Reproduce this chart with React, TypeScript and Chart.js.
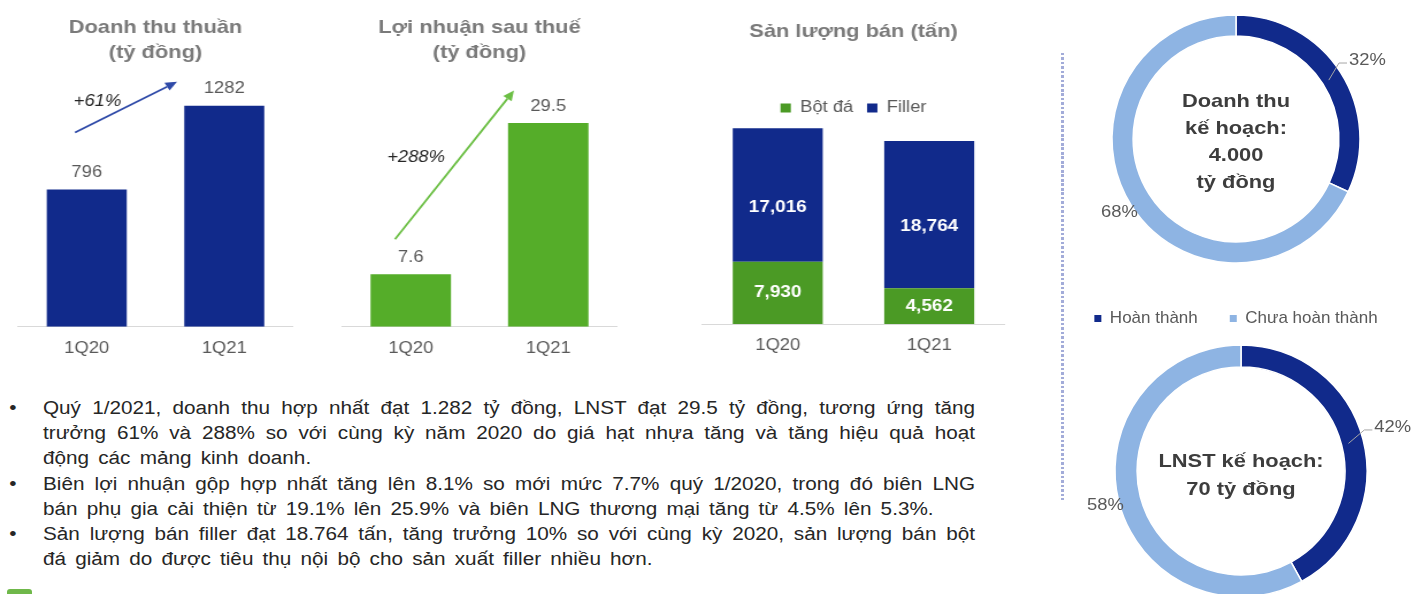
import React, { useEffect, useRef } from 'react';
import { Chart, registerables } from 'chart.js';

Chart.register(...registerables);

const FONT = '"Liberation Sans", Arial, Helvetica, sans-serif';
const STRETCH = 1.15;

// ---------- data ----------
const quarters = ['1Q20', '1Q21'];
const revenue = [796, 1282];
const profit = [7.6, 29.5];
const salesSeries = ['Bột đá', 'Filler'];
const stoneSales = [7930, 4562];
const fillerSales = [17016, 18764];
const revenueTitle = ['Doanh thu thuần', '(tỷ đồng)'];
const profitTitle = ['Lợi nhuận sau thuế', '(tỷ đồng)'];
const salesTitle = ['Sản lượng bán (tấn)'];
const revenueGrowth = '+61%';
const profitGrowth = '+288%';
const planLabels = ['Hoàn thành', 'Chưa hoàn thành'];
const revenuePlan = [32, 68];
const profitPlan = [42, 58];
const revenuePlanText = ['Doanh thu', 'kế hoạch:', '4.000', 'tỷ đồng'];
const profitPlanText = ['LNST kế hoạch:', '70 tỷ đồng'];
const bullet1 = [
  'Quý 1/2021, doanh thu hợp nhất đạt 1.282 tỷ đồng, LNST đạt 29.5 tỷ đồng, tương ứng tăng',
  'trưởng 61% và 288% so với cùng kỳ năm 2020 do giá hạt nhựa tăng và tăng hiệu quả hoạt',
  'động các mảng kinh doanh.',
];
const bullet2 = [
  'Biên lợi nhuận gộp hợp nhất tăng lên 8.1% so mới mức 7.7% quý 1/2020, trong đó biên LNG',
  'bán phụ gia cải thiện từ 19.1% lên 25.9% và biên LNG thương mại tăng từ 4.5% lên 5.3%.',
];
const bullet3 = [
  'Sản lượng bán filler đạt 18.764 tấn, tăng trưởng 10% so với cùng kỳ 2020, sản lượng bán bột',
  'đá giảm do được tiêu thụ nội bộ cho sản xuất filler nhiều hơn.',
];

// ---------- colours ----------
const NAVY = '#112a8b';
const LIGHT_BLUE = '#8eb4e3';
const GREEN_PROFIT = '#55ad29';
const GREEN_STONE = '#4b9a25';
const TITLE_GRAY = '#7a7a7a';
const LABEL_GRAY = '#595959';

// ---------- plugins ----------
function titlePlugin(lines: string[], firstY: number, gap: number) {
  return {
    id: 'panelTitle',
    afterDraw(chart: any) {
      const { ctx, chartArea } = chart;
      const cx = (chartArea.left + chartArea.right) / 2;
      ctx.save();
      ctx.font = `bold 19px ${FONT}`;
      ctx.fillStyle = TITLE_GRAY;
      ctx.textAlign = 'center';
      ctx.textBaseline = 'middle';
      lines.forEach((t, i) => ctx.fillText(t, cx, firstY + i * gap));
      ctx.restore();
    },
  };
}

function topLabels(offset: number) {
  return {
    id: 'topLabels',
    afterDatasetsDraw(chart: any) {
      const ctx = chart.ctx;
      const meta = chart.getDatasetMeta(0);
      const data = chart.data.datasets[0].data;
      ctx.save();
      ctx.font = `16px ${FONT}`;
      ctx.fillStyle = LABEL_GRAY;
      ctx.textAlign = 'center';
      ctx.textBaseline = 'middle';
      meta.data.forEach((bar: any, i: number) => {
        const { x, y } = bar.getProps(['x', 'y'], true);
        ctx.fillText(String(data[i]), x, y - offset);
      });
      ctx.restore();
    },
  };
}

function centerLabels(dys: number[]) {
  return {
    id: 'centerLabels',
    afterDatasetsDraw(chart: any) {
      const ctx = chart.ctx;
      ctx.save();
      ctx.font = `bold 16.5px ${FONT}`;
      ctx.fillStyle = '#ffffff';
      ctx.textAlign = 'center';
      ctx.textBaseline = 'middle';
      chart.data.datasets.forEach((ds: any, di: number) => {
        const meta = chart.getDatasetMeta(di);
        meta.data.forEach((bar: any, i: number) => {
          const { x, y, base } = bar.getProps(['x', 'y', 'base'], true);
          ctx.fillText(Number(ds.data[i]).toLocaleString('en-US'), x, (y + base) / 2 + dys[di]);
        });
      });
      ctx.restore();
    },
  };
}

function growthArrow(color: string, from: any, to: any, label: string, labelAt: any) {
  return {
    id: 'growthArrow',
    afterDatasetsDraw(chart: any) {
      const ctx = chart.ctx;
      const meta = chart.getDatasetMeta(0);
      const b0 = meta.data[0].getProps(['x', 'y'], true);
      const b1 = meta.data[1].getProps(['x', 'y'], true);
      const x1 = b0.x + from.dx;
      const y1 = b0.y + from.dy;
      const x2 = b1.x + to.dx;
      const y2 = b1.y + to.dy;
      const ang = Math.atan2(y2 - y1, x2 - x1);
      const head = 10;
      const hw = 4.5;
      const bx = x2 - head * Math.cos(ang);
      const by = y2 - head * Math.sin(ang);
      ctx.save();
      ctx.strokeStyle = color;
      ctx.lineWidth = 1.8;
      ctx.beginPath();
      ctx.moveTo(x1, y1);
      ctx.lineTo(bx, by);
      ctx.stroke();
      ctx.fillStyle = color;
      ctx.beginPath();
      ctx.moveTo(x2, y2);
      ctx.lineTo(bx + hw * Math.sin(ang), by - hw * Math.cos(ang));
      ctx.lineTo(bx - hw * Math.sin(ang), by + hw * Math.cos(ang));
      ctx.closePath();
      ctx.fill();
      ctx.font = `italic 16px ${FONT}`;
      ctx.fillStyle = '#262626';
      ctx.textAlign = 'center';
      ctx.textBaseline = 'middle';
      ctx.fillText(label, b0.x + labelAt.dx, b0.y + labelAt.dy);
      ctx.restore();
    },
  };
}

function donutText(lines: string[], gap: number, dy: number) {
  return {
    id: 'donutText',
    afterDraw(chart: any) {
      const ctx = chart.ctx;
      const meta = chart.getDatasetMeta(0);
      const data = chart.data.datasets[0].data as number[];
      const total = data.reduce((a, b) => a + b, 0);
      const first = meta.data[0].getProps(['x', 'y', 'innerRadius', 'outerRadius'], true);
      const { x, y, innerRadius, outerRadius } = first;
      ctx.save();
      ctx.font = `bold 19px ${FONT}`;
      ctx.fillStyle = '#3d3d3d';
      ctx.textAlign = 'center';
      ctx.textBaseline = 'middle';
      const n = lines.length;
      lines.forEach((t, i) => {
        ctx.save();
        ctx.translate(x, y + dy + (i - (n - 1) / 2) * gap);
        ctx.scale(STRETCH, 1);
        ctx.fillText(t, 0, 0);
        ctx.restore();
      });
      ctx.font = `16px ${FONT}`;
      ctx.fillStyle = LABEL_GRAY;
      meta.data.forEach((arc: any, i: number) => {
        const { startAngle, endAngle } = arc.getProps(['startAngle', 'endAngle'], true);
        const mid = (startAngle + endAngle) / 2;
        const text = Math.round((data[i] / total) * 100) + '%';
        if (Math.cos(mid) > 0) {
          const sx = x + (innerRadius + 7) * Math.cos(mid);
          const sy = y + (innerRadius + 7) * Math.sin(mid);
          const a2 = mid - 0.07;
          const ex = x + (outerRadius + 4) * Math.cos(a2);
          const ey = y + (outerRadius + 4) * Math.sin(a2);
          ctx.strokeStyle = '#a6a6a6';
          ctx.lineWidth = 1;
          ctx.beginPath();
          ctx.moveTo(sx, sy);
          ctx.lineTo(ex, ey);
          ctx.lineTo(ex + 8, ey);
          ctx.stroke();
          ctx.save();
          ctx.translate(ex + 10, ey - 2);
          ctx.scale(STRETCH, 1);
          ctx.textAlign = 'left';
          ctx.fillText(text, 0, 0);
          ctx.restore();
        } else {
          const r = outerRadius + 14;
          ctx.save();
          ctx.translate(x + r * Math.cos(mid), y + r * Math.sin(mid));
          ctx.scale(STRETCH, 1);
          ctx.textAlign = 'center';
          ctx.fillText(text, 0, 0);
          ctx.restore();
        }
      });
      ctx.restore();
    },
  };
}

// ---------- configs ----------
const xAxis = (padBottomTicks: number) => ({
  grid: { display: false, drawTicks: false },
  border: { display: true, color: '#d9d9d9', width: 1 },
  ticks: { color: LABEL_GRAY, font: { family: FONT, size: 16 }, padding: padBottomTicks },
});

const baseOptions = {
  animation: false,
  responsive: true,
  maintainAspectRatio: false,
  events: [],
};

const revenueConfig = () => ({
  type: 'bar',
  data: {
    labels: quarters,
    datasets: [
      { label: 'Doanh thu thuần', data: revenue, backgroundColor: NAVY, borderWidth: 0, categoryPercentage: 1, barPercentage: 0.582 },
    ],
  },
  options: {
    ...baseOptions,
    layout: { padding: { left: 15.65, right: 25.2, top: 75, bottom: 0 } },
    plugins: { legend: { display: false }, tooltip: { enabled: false } },
    scales: { x: xAxis(12), y: { display: false, min: 0, max: 1460 } },
  },
  plugins: [
    titlePlugin(revenueTitle, 27.5, 25.5),
    topLabels(17),
    growthArrow('#2f4aa8', { dx: -10.2, dy: -57 }, { dx: -41.1, dy: -24 }, revenueGrowth, { dx: 9.3, dy: -88 }),
  ],
});

const profitConfig = () => ({
  type: 'bar',
  data: {
    labels: quarters,
    datasets: [
      { label: 'Lợi nhuận sau thuế', data: profit, backgroundColor: GREEN_PROFIT, borderWidth: 0, categoryPercentage: 1, barPercentage: 0.585 },
    ],
  },
  options: {
    ...baseOptions,
    layout: { padding: { left: 10.43, right: 25.43, top: 75, bottom: 0 } },
    plugins: { legend: { display: false }, tooltip: { enabled: false } },
    scales: { x: xAxis(12), y: { display: false, min: 0, max: 36.47 } },
  },
  plugins: [
    titlePlugin(profitTitle, 27.5, 25.5),
    topLabels(17),
    growthArrow('#6cbf45', { dx: -13.7, dy: -35 }, { dx: -29.8, dy: -32.7 }, profitGrowth, { dx: 4.6, dy: -117 }),
  ],
});

const salesConfig = () => ({
  type: 'bar',
  data: {
    labels: quarters,
    datasets: [
      { label: salesSeries[0], data: stoneSales, backgroundColor: GREEN_STONE, borderWidth: 0, categoryPercentage: 1, barPercentage: 0.594 },
      { label: salesSeries[1], data: fillerSales, backgroundColor: NAVY, borderWidth: 0, categoryPercentage: 1, barPercentage: 0.594 },
    ],
  },
  options: {
    ...baseOptions,
    layout: { padding: { left: 10.43, right: 26.1, top: 88, bottom: 2.8 } },
    plugins: {
      legend: {
        display: true,
        position: 'top',
        labels: { boxWidth: 9, boxHeight: 9, padding: 12, color: LABEL_GRAY, font: { family: FONT, size: 16 } },
      },
      tooltip: { enabled: false },
    },
    scales: { x: { ...xAxis(12), stacked: true }, y: { display: false, stacked: true, min: 0, max: 25224 } },
  },
  plugins: [titlePlugin(salesTitle, 31.5, 26), centerLabels([0, 12])],
});

const donutLegendLabels = (chart: any) =>
  (Chart as any).overrides.doughnut.plugins.legend.labels
    .generateLabels(chart)
    .map((l: any) => ({ ...l, lineWidth: 0, strokeStyle: 'rgba(0,0,0,0)' }));

const revenuePlanConfig = () => ({
  type: 'doughnut',
  data: {
    labels: planLabels,
    datasets: [{ data: revenuePlan, backgroundColor: [NAVY, LIGHT_BLUE], borderColor: '#ffffff', borderWidth: 1.5 }],
  },
  options: {
    ...baseOptions,
    radius: 124,
    cutout: '83%',
    layout: { padding: 0 },
    plugins: {
      legend: {
        display: true,
        position: 'bottom',
        labels: {
          boxWidth: 7,
          boxHeight: 7,
          padding: 32,
          color: LABEL_GRAY,
          font: { family: FONT, size: 17 },
          generateLabels: donutLegendLabels,
        },
      },
      tooltip: { enabled: false },
    },
  },
  plugins: [donutText(revenuePlanText, 27, 3)],
});

const profitPlanConfig = () => ({
  type: 'doughnut',
  data: {
    labels: planLabels,
    datasets: [{ data: profitPlan, backgroundColor: [NAVY, LIGHT_BLUE], borderColor: '#ffffff', borderWidth: 1.5 }],
  },
  options: {
    ...baseOptions,
    radius: 126,
    cutout: '82.5%',
    layout: { padding: 0 },
    plugins: { legend: { display: false }, tooltip: { enabled: false } },
  },
  plugins: [donutText(profitPlanText, 27.5, 5)],
});

// ---------- components ----------
function ChartPanel({ left, top, width, height, stretch, config }: any) {
  const ref = useRef<HTMLCanvasElement | null>(null);
  useEffect(() => {
    if (!ref.current) return;
    const chart = new Chart(ref.current, config() as any);
    return () => chart.destroy();
  }, []);
  return (
    <div
      style={{
        position: 'absolute',
        left,
        top,
        width,
        height,
        transform: stretch ? `scaleX(${STRETCH})` : 'none',
        transformOrigin: '0 0',
      }}
    >
      <canvas ref={ref} />
    </div>
  );
}

const TEXT_STRETCH = 1.15;

function Notes() {
  const groups = [bullet1, bullet2, bullet3];
  const innerWidth = 932 / TEXT_STRETCH;
  return (
    <div
      style={{
        position: 'absolute',
        left: 0,
        top: 396,
        transform: `scaleX(${TEXT_STRETCH})`,
        transformOrigin: '0 0',
        fontFamily: FONT,
        fontSize: 18,
        lineHeight: '25.2px',
        color: '#262626',
        wordSpacing: 3,
      }}
    >
      {groups.map((lines, gi) =>
        lines.map((line, j) => {
          const last = j === lines.length - 1;
          return (
            <div
              key={`${gi}-${j}`}
              style={{
                position: 'relative',
                paddingLeft: 43 / TEXT_STRETCH,
                width: innerWidth,
                whiteSpace: 'nowrap',
                textAlign: last ? 'left' : 'justify',
                textAlignLast: last ? 'left' : 'justify',
              } as any}
            >
              {j === 0 && <span style={{ position: 'absolute', left: 8 }}>•</span>}
              {line}
            </div>
          );
        })
      )}
    </div>
  );
}

export default function App() {
  return (
    <div
      style={{
        position: 'absolute',
        left: 0,
        top: 0,
        width: 1412,
        height: 594,
        overflow: 'hidden',
        background: '#ffffff',
        fontFamily: FONT,
      }}
    >
      <ChartPanel left={0} top={0} width={280} height={370} stretch config={revenueConfig} />
      <ChartPanel left={330} top={0} width={275} height={370} stretch config={profitConfig} />
      <ChartPanel left={690} top={0} width={300} height={370} stretch config={salesConfig} />
      <div
        style={{
          position: 'absolute',
          left: 1061,
          top: 53,
          width: 2.5,
          height: 447,
          background: 'repeating-linear-gradient(to bottom, #a3acd9 0px, #a3acd9 2.5px, transparent 2.5px, transparent 4.5px)',
        }}
      />
      <ChartPanel left={1056} top={0} width={360} height={337} config={revenuePlanConfig} />
      <ChartPanel left={1070} top={340} width={342} height={262} config={profitPlanConfig} />
      <Notes />
      <div
        style={{
          position: 'absolute',
          left: 7,
          top: 589,
          width: 25,
          height: 10,
          borderRadius: 3,
          background: '#6fb84a',
        }}
      />
    </div>
  );
}
